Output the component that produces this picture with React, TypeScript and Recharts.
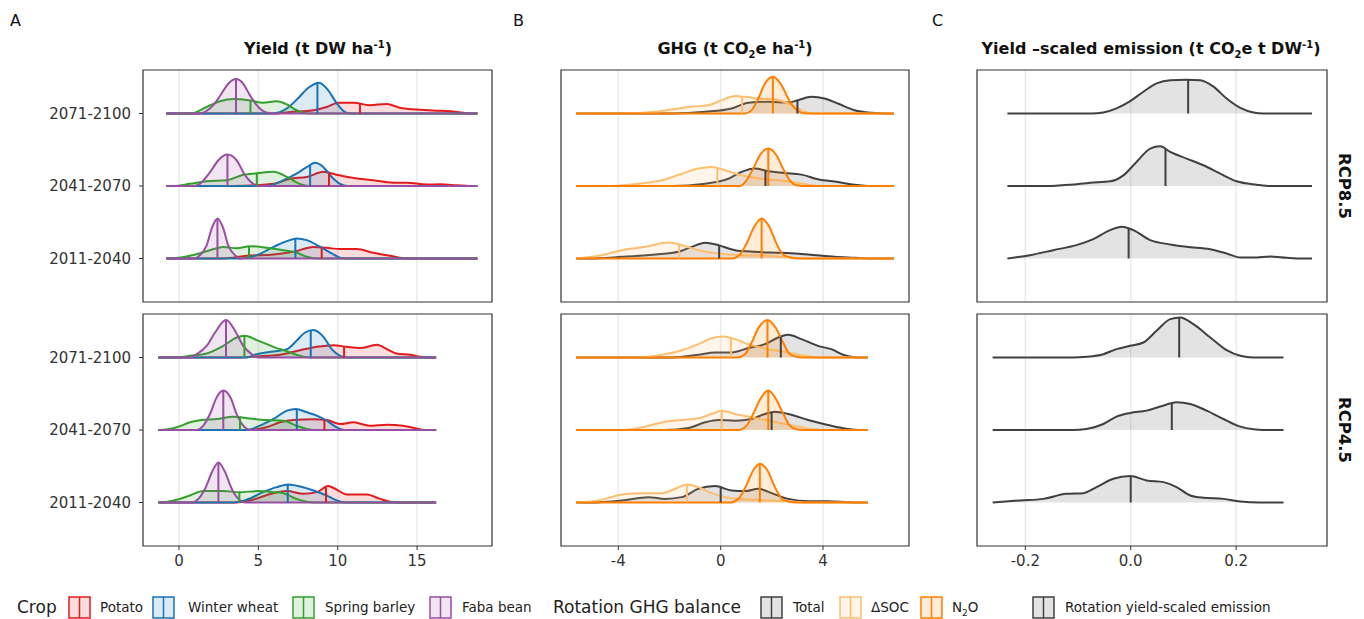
import { ComposedChart, Area, XAxis, YAxis, CartesianGrid, ReferenceLine, ReferenceArea } from 'recharts';

type Pt = [number, number];

type Series = {
    name: string;
    color: string;
    curves: Pt[][];
    medians: number[];
};

// ridge labels, bottom to top
const PERIODS = ['2011-2040', '2041-2070', '2071-2100'];

const yieldTicks = [0, 5, 10, 15];
const ghgTicks = [-4, 0, 4];
const ysTicks = [-0.2, 0, 0.2];

// density curves: [x, height in ridge units], one list per period (2011, 2041, 2071)
// ---- Yield, RCP8.5
const potato85: Pt[][] = [
    [[2.8, 0], [4.26, 0.037], [5.95, 0.055], [7.2, 0.092], [8.47, 0.16], [9.3, 0.147], [10.15, 0.13], [11.2, 0.13], [12.25, 0.078], [13.3, 0.037], [13.9, 0.01], [14.5, 0]],
    [[3.4, 0], [5.95, 0.03], [7.0, 0.1], [8.05, 0.125], [9.1, 0.195], [9.94, 0.155], [11.0, 0.11], [12.25, 0.08], [13.5, 0.046], [14.35, 0.046], [15.6, 0.02], [16.45, 0.023], [17.5, 0.01], [18.3, 0]],
    [[5.95, 0], [7.0, 0.02], [8.47, 0.045], [9.3, 0.09], [10.04, 0.15], [11.0, 0.15], [12.0, 0.115], [13.1, 0.13], [13.9, 0.08], [15.0, 0.055], [16.0, 0.04], [17.1, 0.03], [17.9, 0.01], [18.6, 0]],
];
const wheat85: Pt[][] = [
    [[3.8, 0], [4.9, 0.046], [5.95, 0.16], [6.8, 0.24], [7.42, 0.276], [8.05, 0.253], [8.9, 0.16], [9.62, 0.07], [10.15, 0.01], [10.6, 0]],
    [[5.5, 0], [6.58, 0.08], [7.4, 0.17], [8.05, 0.26], [8.57, 0.32], [9.1, 0.26], [9.62, 0.125], [10.15, 0.03], [10.6, 0]],
    [[5.9, 0], [6.8, 0.07], [7.5, 0.21], [8.15, 0.355], [8.82, 0.425], [9.4, 0.32], [9.94, 0.14], [10.46, 0.02], [10.9, 0]],
];
const barley85: Pt[][] = [
    [[-0.57, 0], [0.69, 0.037], [1.74, 0.1], [2.79, 0.16], [3.63, 0.14], [4.47, 0.17], [5.5, 0.147], [6.58, 0.115], [7.4, 0.083], [8.05, 0.023], [8.7, 0]],
    [[-0.36, 0], [0.69, 0.03], [1.74, 0.065], [3.0, 0.08], [4.05, 0.155], [4.9, 0.175], [5.95, 0.195], [6.8, 0.125], [7.6, 0.03], [8.2, 0]],
    [[0.7, 0], [1.74, 0.09], [2.58, 0.17], [3.42, 0.2], [4.47, 0.18], [5.3, 0.15], [6.15, 0.17], [6.8, 0.125], [7.4, 0.045], [8.0, 0.005], [8.4, 0]],
];
const faba85: Pt[][] = [
    [[0.9, 0], [1.32, 0.046], [1.74, 0.18], [2.06, 0.415], [2.42, 0.553], [2.79, 0.415], [3.1, 0.18], [3.53, 0.046], [3.9, 0]],
    [[0.9, 0], [1.32, 0.03], [1.95, 0.19], [2.48, 0.355], [3.05, 0.433], [3.63, 0.355], [4.16, 0.15], [4.68, 0.03], [5.1, 0]],
    [[1.2, 0], [2.16, 0.115], [2.69, 0.28], [3.1, 0.41], [3.59, 0.475], [4.05, 0.41], [4.47, 0.25], [5.0, 0.09], [5.5, 0.015], [6.0, 0]],
];
const potato85Med = [8.99, 9.45, 11.4];
const wheat85Med = [7.33, 8.26, 8.72];
const barley85Med = [4.41, 4.9, 4.5];
const faba85Med = [2.42, 3.05, 3.59];

// ---- Yield, RCP4.5
const potato45: Pt[][] = [
    [[3.4, 0], [4.47, 0.028], [5.95, 0.129], [6.8, 0.157], [7.84, 0.12], [8.68, 0.143], [9.41, 0.226], [9.83, 0.19], [10.57, 0.111], [11.83, 0.111], [12.67, 0.05], [13.3, 0.01], [13.8, 0]],
    [[4.47, 0], [5.5, 0.037], [6.37, 0.106], [7.2, 0.138], [8.47, 0.147], [9.3, 0.138], [10.15, 0.083], [11.0, 0.106], [12.0, 0.06], [13.1, 0.074], [14.1, 0.06], [14.8, 0.028], [15.5, 0]],
    [[3.85, 0], [4.9, 0.014], [6.37, 0.037], [7.63, 0.1], [8.68, 0.147], [9.73, 0.17], [10.57, 0.147], [11.4, 0.13], [12.46, 0.175], [13.1, 0.115], [13.7, 0.055], [14.56, 0.037], [15.2, 0.01], [15.7, 0]],
];
const wheat45: Pt[][] = [
    [[3.4, 0], [4.26, 0.037], [5.3, 0.143], [6.15, 0.212], [6.9, 0.249], [7.63, 0.22], [8.47, 0.166], [9.3, 0.097], [9.94, 0.028], [10.5, 0]],
    [[4.26, 0], [5.1, 0.06], [5.95, 0.152], [6.8, 0.267], [7.37, 0.29], [8.05, 0.244], [8.68, 0.198], [9.3, 0.129], [9.94, 0.037], [10.5, 0]],
    [[4.26, 0], [4.9, 0.046], [5.95, 0.083], [6.8, 0.115], [7.4, 0.23], [7.94, 0.345], [8.47, 0.38], [9.1, 0.285], [9.62, 0.115], [10.15, 0.023], [10.6, 0]],
];
const barley45: Pt[][] = [
    [[-1.2, 0], [-0.15, 0.037], [0.69, 0.097], [1.53, 0.157], [2.79, 0.157], [3.84, 0.143], [4.9, 0.157], [5.95, 0.143], [6.58, 0.129], [7.4, 0.05], [8.05, 0.01], [8.5, 0]],
    [[-1.2, 0], [-0.15, 0.037], [0.69, 0.106], [1.43, 0.138], [2.37, 0.152], [3.42, 0.184], [4.47, 0.16], [5.5, 0.138], [6.58, 0.129], [7.4, 0.06], [8.05, 0.014], [8.5, 0]],
    [[-0.36, 0], [0.69, 0.023], [1.74, 0.055], [2.79, 0.16], [3.63, 0.276], [4.16, 0.3], [4.9, 0.24], [5.95, 0.147], [7.0, 0.07], [7.6, 0.023], [8.2, 0]],
];
const faba45: Pt[][] = [
    [[0.8, 0], [1.22, 0.05], [1.64, 0.19], [2.12, 0.44], [2.48, 0.553], [2.9, 0.42], [3.32, 0.19], [3.74, 0.05], [4.2, 0]],
    [[1.1, 0], [1.53, 0.06], [1.95, 0.22], [2.37, 0.45], [2.79, 0.544], [3.26, 0.44], [3.63, 0.22], [4.05, 0.06], [4.5, 0]],
    [[0.7, 0], [1.11, 0.046], [1.74, 0.16], [2.27, 0.345], [2.96, 0.516], [3.53, 0.37], [4.05, 0.16], [4.58, 0.046], [5.0, 0]],
];
const potato45Med = [9.26, 9.16, 10.4];
const wheat45Med = [6.85, 7.42, 8.3];
const barley45Med = [3.8, 3.84, 4.12];
const faba45Med = [2.48, 2.79, 2.96];

// ---- GHG, RCP8.5
const total85: Pt[][] = [
    [[-5.16, 0], [-3.86, 0.023], [-2.56, 0.055], [-1.65, 0.092], [-1.13, 0.161], [-0.61, 0.217], [-0.09, 0.184], [0.56, 0.115], [1.34, 0.092], [2.38, 0.078], [3.42, 0.055], [4.45, 0.023], [5.23, 0.01], [5.8, 0]],
    [[-1.9, 0], [-0.61, 0.032], [0.3, 0.1], [0.82, 0.194], [1.34, 0.24], [1.86, 0.203], [2.5, 0.18], [3.16, 0.157], [3.8, 0.092], [4.58, 0.055], [5.23, 0.018], [5.9, 0]],
    [[-1.9, 0], [-0.6, 0.023], [0.43, 0.07], [1.08, 0.147], [1.86, 0.161], [2.64, 0.152], [3.03, 0.184], [3.55, 0.23], [4.06, 0.207], [4.58, 0.138], [5.23, 0.046], [5.9, 0.01], [6.4, 0]],
];
const soc85: Pt[][] = [
    [[-5.65, 0], [-4.77, 0.037], [-3.86, 0.115], [-2.95, 0.161], [-2.04, 0.221], [-1.52, 0.184], [-0.87, 0.115], [-0.09, 0.07], [0.82, 0.046], [1.86, 0.037], [2.9, 0.01], [3.5, 0]],
    [[-4.5, 0], [-3.2, 0.032], [-2.3, 0.078], [-1.52, 0.17], [-0.87, 0.24], [-0.35, 0.263], [0.17, 0.217], [0.82, 0.147], [1.6, 0.1], [2.64, 0.065], [3.42, 0.018], [3.8, 0]],
    [[-3.86, 0], [-2.56, 0.023], [-1.65, 0.07], [-1.0, 0.1], [-0.48, 0.115], [0.04, 0.184], [0.56, 0.24], [0.95, 0.23], [1.47, 0.207], [2.12, 0.194], [2.64, 0.138], [3.03, 0.07], [3.42, 0.01], [3.8, 0]],
];
const n2o85: Pt[][] = [
    [[0.43, 0], [0.75, 0.055], [1.01, 0.207], [1.31, 0.438], [1.6, 0.553], [1.9, 0.438], [2.18, 0.207], [2.44, 0.055], [2.77, 0.01], [3.0, 0]],
    [[0.75, 0], [1.01, 0.078], [1.27, 0.24], [1.53, 0.424], [1.86, 0.516], [2.18, 0.424], [2.44, 0.24], [2.7, 0.078], [2.96, 0.01], [3.2, 0]],
    [[0.95, 0], [1.21, 0.046], [1.47, 0.207], [1.73, 0.415], [2.04, 0.507], [2.38, 0.39], [2.64, 0.207], [2.9, 0.07], [3.16, 0.01], [3.4, 0]],
];
const total85Med = [-0.06, 1.75, 3.0];
const soc85Med = [-1.62, -0.13, 0.84];
const n2o85Med = [1.6, 1.86, 2.04];

// ---- GHG, RCP4.5
const total45: Pt[][] = [
    [[-5.16, 0], [-3.86, 0.028], [-2.82, 0.074], [-2.17, 0.05], [-1.52, 0.074], [-0.87, 0.189], [-0.22, 0.226], [0.43, 0.166], [0.95, 0.157], [1.47, 0.189], [1.99, 0.129], [2.64, 0.05], [3.42, 0.018], [4.19, 0.018], [4.97, 0.005], [5.4, 0]],
    [[-2.17, 0], [-1.26, 0.028], [-0.61, 0.106], [-0.09, 0.138], [0.56, 0.129], [1.21, 0.152], [1.73, 0.221], [2.12, 0.253], [2.64, 0.221], [3.42, 0.138], [4.19, 0.07], [4.97, 0.014], [5.4, 0]],
    [[-1.9, 0], [-0.87, 0.037], [-0.22, 0.07], [0.43, 0.07], [1.08, 0.13], [1.73, 0.184], [2.25, 0.276], [2.64, 0.313], [3.16, 0.253], [3.8, 0.161], [4.32, 0.115], [4.84, 0.032], [5.23, 0.005], [5.5, 0]],
];
const soc45: Pt[][] = [
    [[-5.65, 0], [-4.77, 0.028], [-3.86, 0.11], [-3.08, 0.129], [-2.3, 0.129], [-1.78, 0.189], [-1.32, 0.249], [-0.87, 0.212], [-0.35, 0.129], [0.3, 0.065], [1.34, 0.037], [2.64, 0.018], [3.3, 0]],
    [[-3.86, 0], [-2.95, 0.046], [-2.17, 0.115], [-1.52, 0.138], [-0.87, 0.161], [-0.35, 0.221], [0.04, 0.267], [0.56, 0.221], [1.21, 0.175], [1.86, 0.129], [2.64, 0.074], [3.3, 0.028], [3.68, 0.01], [4.0, 0]],
    [[-3.2, 0], [-2.3, 0.037], [-1.52, 0.1], [-0.87, 0.184], [-0.35, 0.267], [0.1, 0.29], [0.56, 0.253], [1.08, 0.184], [1.86, 0.115], [2.64, 0.07], [3.3, 0.023], [3.68, 0.005], [4.0, 0]],
];
const n2o45: Pt[][] = [
    [[0.36, 0], [0.69, 0.05], [0.97, 0.212], [1.27, 0.442], [1.53, 0.535], [1.83, 0.442], [2.12, 0.212], [2.4, 0.05], [2.7, 0.01], [2.9, 0]],
    [[0.69, 0], [1.01, 0.06], [1.3, 0.244], [1.57, 0.44], [1.86, 0.544], [2.14, 0.44], [2.42, 0.244], [2.7, 0.06], [2.96, 0.01], [3.2, 0]],
    [[0.62, 0], [0.95, 0.046], [1.21, 0.207], [1.49, 0.415], [1.83, 0.516], [2.14, 0.415], [2.44, 0.207], [2.7, 0.046], [2.96, 0.01], [3.2, 0]],
];
const total45Med = [0.0, 1.99, 2.35];
const soc45Med = [-1.32, 0.04, 0.4];
const n2o45Med = [1.53, 1.86, 1.83];

// ---- Yield-scaled emission
const ys85: Pt[][] = [
    [[-0.234, 0], [-0.191, 0.046], [-0.147, 0.115], [-0.103, 0.184], [-0.071, 0.267], [-0.039, 0.392], [-0.017, 0.438], [0.005, 0.392], [0.037, 0.253], [0.075, 0.194], [0.106, 0.161], [0.151, 0.129], [0.182, 0.07], [0.208, 0.014], [0.233, 0.014], [0.265, 0.028], [0.296, 0.01], [0.325, 0]],
    [[-0.16, 0], [-0.115, 0.018], [-0.077, 0.046], [-0.039, 0.065], [-0.014, 0.147], [0.011, 0.332], [0.037, 0.516], [0.056, 0.548], [0.075, 0.47], [0.106, 0.378], [0.138, 0.286], [0.17, 0.17], [0.201, 0.065], [0.239, 0.018], [0.265, 0]],
    [[-0.075, 0], [-0.052, 0.014], [-0.027, 0.07], [-0.001, 0.17], [0.024, 0.3], [0.049, 0.415], [0.075, 0.46], [0.106, 0.465], [0.132, 0.46], [0.157, 0.37], [0.182, 0.207], [0.208, 0.078], [0.233, 0.014], [0.252, 0]],
];
const ys45: Pt[][] = [
    [[-0.262, 0], [-0.21, 0.028], [-0.166, 0.05], [-0.122, 0.12], [-0.09, 0.129], [-0.065, 0.212], [-0.033, 0.327], [-0.001, 0.364], [0.03, 0.304], [0.062, 0.281], [0.087, 0.212], [0.113, 0.097], [0.138, 0.065], [0.176, 0.05], [0.208, 0.014], [0.245, 0]],
    [[-0.11, 0], [-0.084, 0.014], [-0.052, 0.083], [-0.027, 0.184], [-0.001, 0.235], [0.03, 0.267], [0.056, 0.323], [0.087, 0.382], [0.113, 0.359], [0.144, 0.267], [0.176, 0.152], [0.208, 0.046], [0.233, 0.01], [0.252, 0]],
    [[-0.11, 0], [-0.084, 0.01], [-0.052, 0.046], [-0.027, 0.115], [-0.001, 0.161], [0.024, 0.207], [0.049, 0.369], [0.075, 0.53], [0.094, 0.553], [0.119, 0.46], [0.151, 0.276], [0.182, 0.101], [0.208, 0.023], [0.233, 0]],
];
const ys85Med = [-0.004, 0.066, 0.109];
const ys45Med = [0.0, 0.078, 0.092];

const COLORS = {
    potato: '#e41a1c',
    wheat: '#1772b8',
    barley: '#33a02c',
    faba: '#984ea3',
    total: '#404040',
    soc: '#fdbf6f',
    n2o: '#ff7f00',
};

const TICK = { fontSize: 15, fill: '#333', fontFamily: 'DejaVu Sans' };
const Y_DOMAIN: [number, number] = [0.4, 3.6];
const LW = 2;

function toRows(curve: Pt[], base: number, range: [number, number]) {
    const pts = [...curve];
    if (pts[0][0] > range[0]) pts.unshift([range[0], 0]);
    if (pts[pts.length - 1][0] < range[1]) pts.push([range[1], 0]);
    return pts.map(([x, h]) => ({ x, y: base + h }));
}

function heightAt(curve: Pt[], x: number) {
    for (let i = 0; i < curve.length - 1; i++) {
        const [x0, h0] = curve[i];
        const [x1, h1] = curve[i + 1];
        if (x >= x0 && x <= x1) return h0 + ((h1 - h0) * (x - x0)) / (x1 - x0);
    }
    return 0;
}

type PanelProps = {
    plotLeft: number;
    plotTop: number;
    plotW: number;
    domain: [number, number];
    ticks: number[];
    fmt?: (v: number) => string;
    range: [number, number];
    series: Series[];
    yLabels?: boolean;
    xAxis?: boolean;
};

function RidgePanel({ plotLeft, plotTop, plotW, domain, ticks, fmt, range, series, yLabels, xAxis }: PanelProps) {
    const yAxisW = yLabels ? 143 : 0;
    const xAxisH = xAxis ? 30 : 0;
    const w = yAxisW + plotW + 4;
    const h = 232 + xAxisH + 4;
    return (
        <div style={{ position: 'absolute', left: plotLeft - yAxisW - 2, top: plotTop - 2 }}>
            <ComposedChart width={w} height={h} margin={{ top: 2, right: 2, bottom: 2, left: 2 }}>
                <CartesianGrid horizontal={false} verticalValues={ticks} stroke="#ebebeb" strokeWidth={1.5} />
                <XAxis
                    type="number"
                    dataKey="x"
                    domain={domain}
                    ticks={ticks}
                    interval={0}
                    allowDataOverflow
                    hide={!xAxis}
                    height={xAxisH}
                    axisLine={false}
                    tickSize={4}
                    tickMargin={5}
                    tickLine={{ stroke: '#333' }}
                    tick={TICK}
                    tickFormatter={fmt}
                />
                <YAxis
                    type="number"
                    domain={Y_DOMAIN}
                    ticks={[1, 2, 3]}
                    interval={0}
                    allowDataOverflow
                    hide={!yLabels}
                    width={yAxisW}
                    axisLine={false}
                    tickSize={4}
                    tickMargin={8}
                    tickLine={{ stroke: '#333' }}
                    tick={TICK}
                    tickFormatter={(v: number) => PERIODS[v - 1]}
                />
                {[2, 1, 0].map((p) =>
                    series.map((s) => (
                        <Area
                            key={`${s.name}-${p}`}
                            name={`${s.name} ${PERIODS[p]}`}
                            data={toRows(s.curves[p], p + 1, range)}
                            dataKey="y"
                            type="monotone"
                            baseValue={p + 1}
                            stroke={s.color}
                            strokeWidth={LW}
                            strokeLinejoin="round"
                            fill={s.color}
                            fillOpacity={0.15}
                            dot={false}
                            activeDot={false}
                            isAnimationActive={false}
                        />
                    ))
                )}
                {series.map((s) =>
                    s.medians.map((m, p) => (
                        <ReferenceLine
                            key={`med-${s.name}-${p}`}
                            segment={[
                                { x: m, y: p + 1 },
                                { x: m, y: p + 1 + heightAt(s.curves[p], m) },
                            ]}
                            stroke={s.color}
                            strokeWidth={LW}
                        />
                    ))
                )}
                <ReferenceArea
                    x1={domain[0]}
                    x2={domain[1]}
                    y1={Y_DOMAIN[0]}
                    y2={Y_DOMAIN[1]}
                    fill="none"
                    fillOpacity={0}
                    stroke="#333"
                    strokeWidth={1.2}
                />
            </ComposedChart>
        </div>
    );
}

function Key({ x, color }: { x: number; color: string }) {
    return (
        <svg style={{ position: 'absolute', left: x, top: 596 }} width={23} height={23}>
            <rect x={1} y={1} width={21} height={21} fill={color} fillOpacity={0.15} stroke={color} strokeWidth={1.5} />
            <line x1={11.5} x2={11.5} y1={1} y2={22} stroke={color} strokeWidth={1.5} />
        </svg>
    );
}

function Label({ x, text, size = 13.5 }: { x: number; text: React.ReactNode; size?: number }) {
    return (
        <div style={{ position: 'absolute', left: x, top: 597, height: 20, lineHeight: '20px', fontSize: size, color: '#222', whiteSpace: 'nowrap' }}>
            {text}
        </div>
    );
}

const yield85: Series[] = [
    { name: 'Potato', color: COLORS.potato, curves: potato85, medians: potato85Med },
    { name: 'Winter wheat', color: COLORS.wheat, curves: wheat85, medians: wheat85Med },
    { name: 'Spring barley', color: COLORS.barley, curves: barley85, medians: barley85Med },
    { name: 'Faba bean', color: COLORS.faba, curves: faba85, medians: faba85Med },
];
const yield45: Series[] = [
    { name: 'Potato', color: COLORS.potato, curves: potato45, medians: potato45Med },
    { name: 'Winter wheat', color: COLORS.wheat, curves: wheat45, medians: wheat45Med },
    { name: 'Spring barley', color: COLORS.barley, curves: barley45, medians: barley45Med },
    { name: 'Faba bean', color: COLORS.faba, curves: faba45, medians: faba45Med },
];
const ghg85: Series[] = [
    { name: 'Total', color: COLORS.total, curves: total85, medians: total85Med },
    { name: 'SOC', color: COLORS.soc, curves: soc85, medians: soc85Med },
    { name: 'N2O', color: COLORS.n2o, curves: n2o85, medians: n2o85Med },
];
const ghg45: Series[] = [
    { name: 'Total', color: COLORS.total, curves: total45, medians: total45Med },
    { name: 'SOC', color: COLORS.soc, curves: soc45, medians: soc45Med },
    { name: 'N2O', color: COLORS.n2o, curves: n2o45, medians: n2o45Med },
];
const ysc85: Series[] = [{ name: 'YS', color: COLORS.total, curves: ys85, medians: ys85Med }];
const ysc45: Series[] = [{ name: 'YS', color: COLORS.total, curves: ys45, medians: ys45Med }];

const yieldDomain: [number, number] = [-2.27, 19.72];
const ghgDomain: [number, number] = [-6.24, 7.36];
const ysDomain: [number, number] = [-0.2917, 0.3725];
const fmtYs = (v: number) => v.toFixed(1);

export default function App() {
    return (
        <div style={{ position: 'absolute', left: 0, top: 0, width: 1364, height: 619, background: '#fff', fontFamily: 'DejaVu Sans' }}>
            <svg style={{ position: 'absolute', left: 0, top: 0 }} width={1364} height={619}>
                <g fontFamily="DejaVu Sans" fill="#111">
                    <text x={10} y={26} fontSize={16}>A</text>
                    <text x={513} y={26} fontSize={16}>B</text>
                    <text x={932} y={26} fontSize={16}>C</text>
                    <text x={318} y={54} fontSize={16} fontWeight="bold" textAnchor="middle">
                        Yield (t DW ha<tspan dy={-6} fontSize={10}>-1</tspan><tspan dy={6}>)</tspan>
                    </text>
                    <text x={735} y={54} fontSize={16} fontWeight="bold" textAnchor="middle">
                        GHG (t CO<tspan dy={4} fontSize={10}>2</tspan><tspan dy={-4}>e ha</tspan><tspan dy={-6} fontSize={10}>-1</tspan><tspan dy={6}>)</tspan>
                    </text>
                    <text x={1151} y={54} fontSize={16} fontWeight="bold" textAnchor="middle">
                        Yield –scaled emission (t CO<tspan dy={4} fontSize={10}>2</tspan><tspan dy={-4}>e t DW</tspan><tspan dy={-6} fontSize={10}>-1</tspan><tspan dy={6}>)</tspan>
                    </text>
                    <text transform="translate(1339,186) rotate(90)" fontSize={16.5} fontWeight="bold" textAnchor="middle">RCP8.5</text>
                    <text transform="translate(1339,430) rotate(90)" fontSize={16.5} fontWeight="bold" textAnchor="middle">RCP4.5</text>
                </g>
            </svg>

            <RidgePanel plotLeft={143} plotTop={70} plotW={349} domain={yieldDomain} ticks={yieldTicks} range={[-0.8, 18.8]} series={yield85} yLabels />
            <RidgePanel plotLeft={143} plotTop={314} plotW={349} domain={yieldDomain} ticks={yieldTicks} range={[-1.3, 16.2]} series={yield45} yLabels xAxis />
            <RidgePanel plotLeft={561} plotTop={70} plotW={348} domain={ghgDomain} ticks={ghgTicks} range={[-5.65, 6.77]} series={ghg85} />
            <RidgePanel plotLeft={561} plotTop={314} plotW={348} domain={ghgDomain} ticks={ghgTicks} range={[-5.65, 5.75]} series={ghg45} xAxis />
            <RidgePanel plotLeft={977} plotTop={70} plotW={350} domain={ysDomain} ticks={ysTicks} fmt={fmtYs} range={[-0.234, 0.344]} series={ysc85} />
            <RidgePanel plotLeft={977} plotTop={314} plotW={350} domain={ysDomain} ticks={ysTicks} fmt={fmtYs} range={[-0.262, 0.29]} series={ysc45} xAxis />

            <Label x={17} text="Crop" size={17} />
            <Key x={68} color={COLORS.potato} />
            <Label x={100} text="Potato" />
            <Key x={152} color={COLORS.wheat} />
            <Label x={188} text="Winter wheat" />
            <Key x={292} color={COLORS.barley} />
            <Label x={325} text="Spring barley" />
            <Key x={429} color={COLORS.faba} />
            <Label x={462} text="Faba bean" />
            <Label x={553} text="Rotation GHG balance" size={17} />
            <Key x={760} color={COLORS.total} />
            <Label x={793} text="Total" />
            <Key x={839} color={COLORS.soc} />
            <Label x={871} text="ΔSOC" />
            <Key x={920} color={COLORS.n2o} />
            <Label x={952} text={<span>N<sub style={{ fontSize: 9 }}>2</sub>O</span>} />
            <Key x={1032} color={COLORS.total} />
            <Label x={1065} text="Rotation yield-scaled emission" />
        </div>
    );
}
